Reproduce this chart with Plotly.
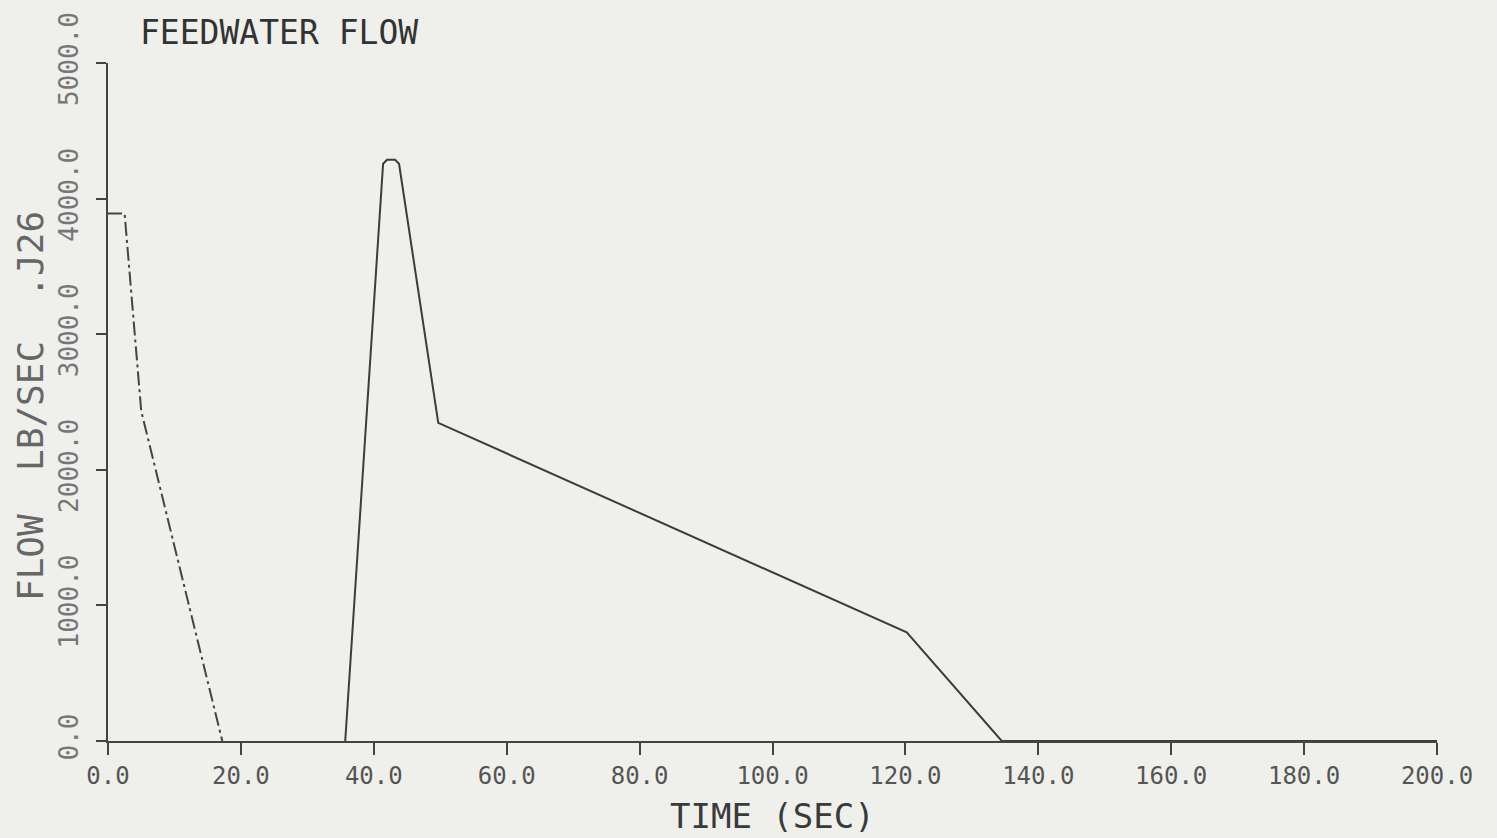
import plotly.graph_objects as go

# Early (dash-dot) trace: time in seconds, flow in lb/sec
early_time = [0.0, 2.5, 5.0, 17.2]
early_flow = [3890, 3890, 2434, 0]

# Later (solid) trace
late_time = [35.7, 41.4, 42.0, 43.2, 43.8, 49.7, 120.2, 134.5, 200.0]
late_flow = [0, 4257, 4287, 4287, 4257, 2346, 801, 0, 0]

x_ticks = [0, 20, 40, 60, 80, 100, 120, 140, 160, 180, 200]
x_tick_text = ["0.0", "20.0", "40.0", "60.0", "80.0", "100.0", "120.0", "140.0", "160.0", "180.0", "200.0"]
y_ticks = [0, 1000, 2000, 3000, 4000, 5000]
y_tick_text = ["0.0", "1000.0", "2000.0", "3000.0", "4000.0", "5000.0"]

BG = "#efefec"
INK = "#3a3a3a"
FONT = "DejaVu Sans Mono"

fig = go.Figure()
fig.add_trace(go.Scatter(x=early_time, y=early_flow, mode="lines",
                         line=dict(color="#444", width=2, dash="14px,4px,3px,4px"),
                         showlegend=False, hoverinfo="skip"))
fig.add_trace(go.Scatter(x=late_time, y=late_flow, mode="lines",
                         line=dict(color="#3c3c3c", width=2),
                         showlegend=False, hoverinfo="skip"))

fig.update_layout(
    width=1497, height=838,
    margin=dict(l=108, r=60, t=61, b=97),
    paper_bgcolor=BG, plot_bgcolor=BG,
    font=dict(family=FONT, color=INK),
    title=dict(text="FEEDWATER FLOW", x=(140) / 1497, xanchor="left",
               xref="container", y=1 - 32 / 838, yanchor="middle", yref="container",
               font=dict(family=FONT, size=33, color="#333")),
    xaxis=dict(range=[0, 200], showgrid=False, zeroline=False,
               showline=True, linecolor="#444", linewidth=2,
               ticks="outside", ticklen=12, tickwidth=2, tickcolor="#444",
               tickvals=x_ticks, ticktext=x_tick_text,
               tickfont=dict(family=FONT, size=24, color="#555")),
    yaxis=dict(range=[0, 5000], showgrid=False, zeroline=False,
               showline=True, linecolor="#444", linewidth=2,
               ticks="outside", ticklen=10, tickwidth=2, tickcolor="#444",
               tickvals=y_ticks, ticktext=y_tick_text, tickangle=-90,
               ticklabelstandoff=8,
               tickfont=dict(family=FONT, size=26, color="#777")),
    annotations=[
        dict(text="TIME (SEC)", x=100, xref="x", y=-(816 - 741) / 680, yref="paper",
             showarrow=False, xanchor="center", yanchor="middle",
             font=dict(family=FONT, size=34, color="#3a3a3a")),
        dict(text="FLOW  LB/SEC  .J26", x=(31 - 108) / 1329, xref="paper",
             y=(741 - 405) / 680, yref="paper", textangle=-90,
             showarrow=False, xanchor="center", yanchor="middle",
             font=dict(family=FONT, size=36, color="#666")),
    ],
)

fig.write_html("out.html")
